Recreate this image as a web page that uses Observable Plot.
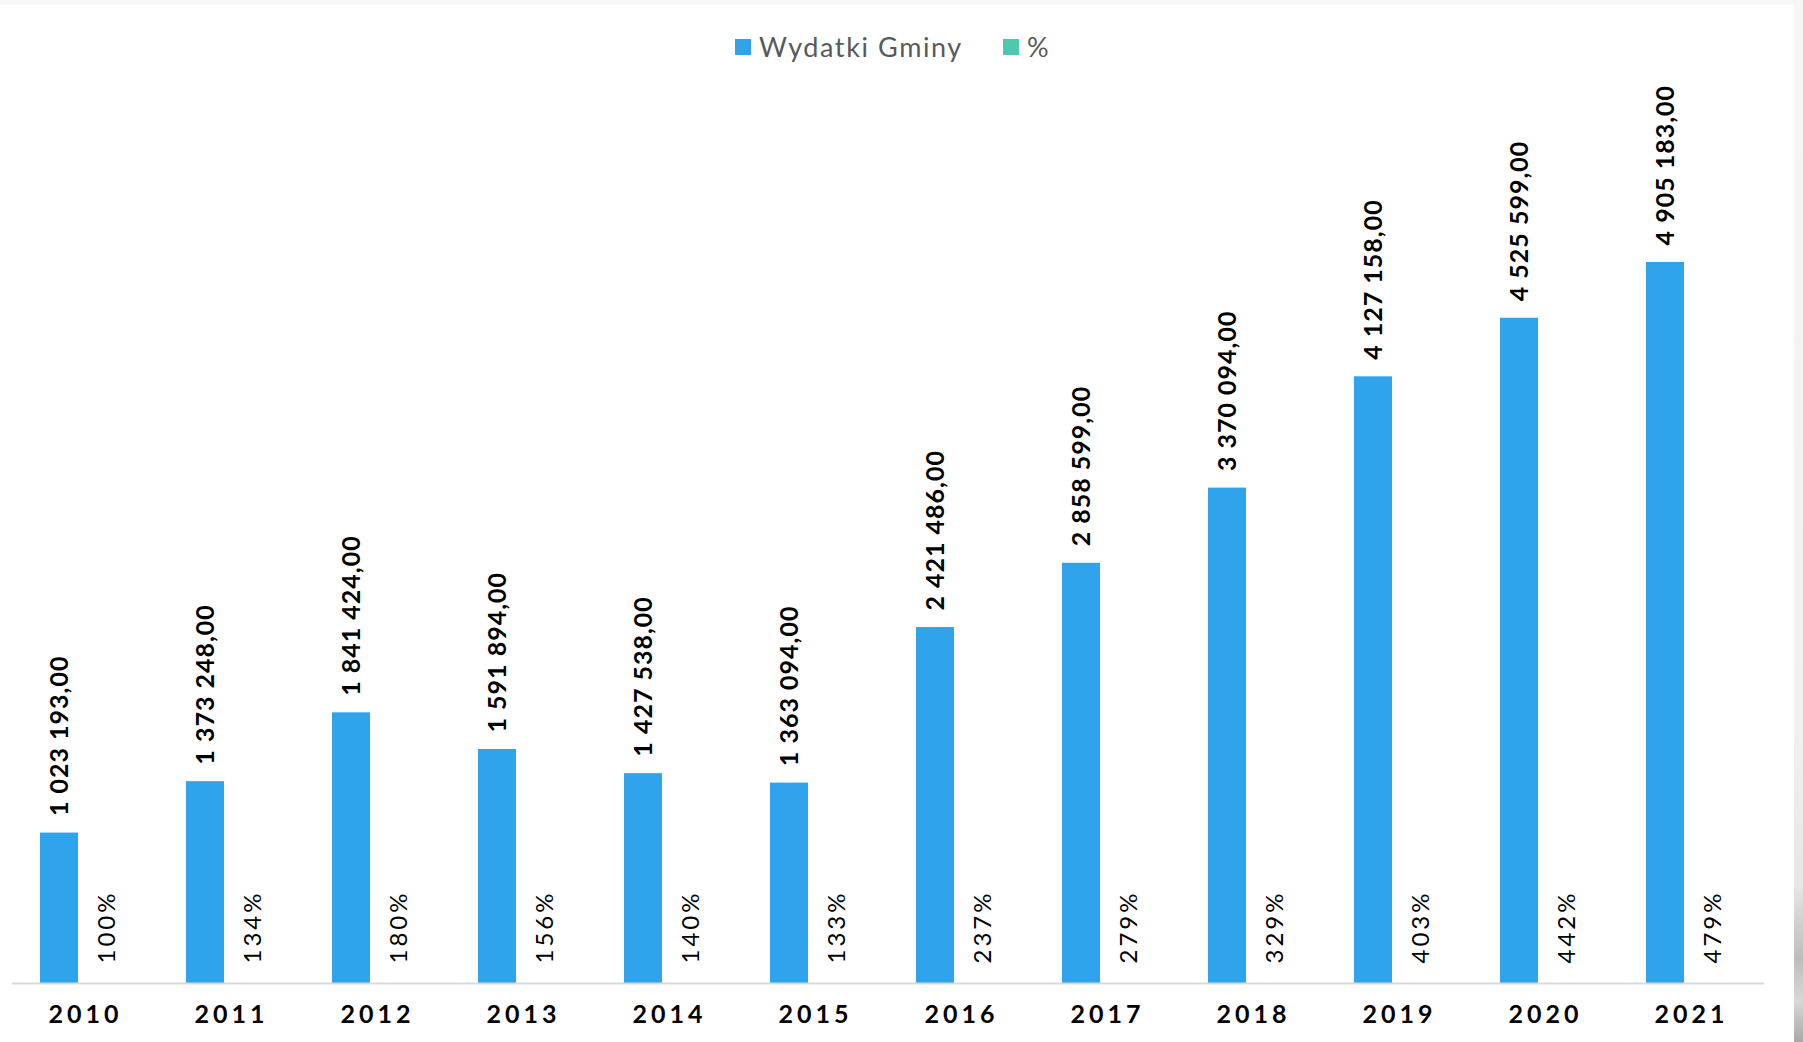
<!DOCTYPE html>
<html>
<head>
<meta charset="utf-8">
<script src="https://cdn.jsdelivr.net/npm/d3@7"></script>
<script src="https://cdn.jsdelivr.net/npm/@observablehq/plot@0.6"></script>
<style>
  html, body { margin: 0; padding: 0; background: #fff; }
  body { width: 1803px; height: 1042px; position: relative; overflow: hidden; font-family: Lato, "Noto Sans", sans-serif; }
  #legend { position: absolute; top: 30px; left: 735px; display: flex; gap: 40px; font-size: 27px; color: #595959; letter-spacing: 1.6px; }
  #legend .item { display: flex; align-items: center; gap: 8px; }
  #legend .sw { width: 16px; height: 16px; display: inline-block; }
  #chart { position: absolute; top: 70px; left: 0; }
  #topstrip { position: absolute; top: 0; left: 0; width: 1803px; height: 5px; background: #f8f8f8; }
  #strip { position: absolute; top: 0; left: 1794px; width: 9px; height: 1042px; background: linear-gradient(to bottom, #f6f6f6 0%, #f1f1f1 70%, #e6e6e6 85%, #bdbdbd 92%, #d8d8d8 96%, #a8a8a8 100%); }
  #chart g[aria-label="fx-axis tick label"] text { letter-spacing: 4px; }
  #chart .pct text { letter-spacing: 3px; }
  #chart .val text { letter-spacing: 1px; }
</style>
</head>
<body>
<div id="topstrip"></div>
<div id="legend"></div>
<div id="chart"></div>
<div id="strip"></div>
<script>
const years = ["2010","2011","2012","2013","2014","2015","2016","2017","2018","2019","2020","2021"];
const seriesNames = ["Wydatki Gminy", "%"];
const seriesColors = ["#2FA3EC", "#4DC9AE"];
const wydatki = [1023193, 1373248, 1841424, 1591894, 1427538, 1363094, 2421486, 2858599, 3370094, 4127158, 4525599, 4905183];
const procent = [100, 134, 180, 156, 140, 133, 237, 279, 329, 403, 442, 479];

const rows = years.flatMap((yr, i) => [
  {year: yr, series: seriesNames[0], value: wydatki[i]},
  {year: yr, series: seriesNames[1], value: procent[i] / 100, pct: procent[i]}
]);
const valueRows = rows.filter(d => d.series === seriesNames[0]);
const pctRows = rows.filter(d => d.series === seriesNames[1]);

const loc = d3.formatLocale({decimal: ",", thousands: " ", grouping: [3], currency: ["", ""]});
const fmt = loc.format(",.2f");

// legend
const legend = document.getElementById("legend");
seriesNames.forEach((s, i) => {
  const it = document.createElement("div");
  it.className = "item";
  it.innerHTML = `<span class="sw" style="background:${seriesColors[i]}"></span><span>${s}</span>`;
  legend.appendChild(it);
});

const chart = Plot.plot({
  width: 1803,
  height: 972,
  marginTop: 31,
  marginBottom: 59,
  marginLeft: 8,
  marginRight: 36,
  style: {fontFamily: "Lato, 'Noto Sans', sans-serif", background: "transparent", overflow: "visible"},
  fx: {domain: years, padding: 0, label: null},
  x: {domain: seriesNames, axis: null, paddingInner: 0, paddingOuter: 0.872, align: 0.4},
  y: {domain: [0, 6000000], axis: null},
  color: {domain: seriesNames, range: seriesColors},
  marks: [
    Plot.barY(rows, {fx: "year", x: "series", y: "value", fill: "series"}),
    Plot.ruleY([0], {stroke: "#d9d9d9", strokeWidth: 2}),
    Plot.text(valueRows, {
      fx: "year", x: "series", y: "value",
      text: d => fmt(d.value),
      rotate: -90, textAnchor: "start", lineAnchor: "middle",
      dy: -17, fontSize: 25, fontWeight: "bold", fill: "#000", className: "val"
    }),
    Plot.text(pctRows, {
      fx: "year", x: "series", y: 0,
      text: d => d.pct + "%",
      rotate: -90, textAnchor: "start", lineAnchor: "middle",
      dy: -20, dx: 10, fontSize: 24, fill: "#000", className: "pct"
    }),
    Plot.axisFx({anchor: "bottom", tickSize: 0, tickPadding: 22, fontSize: 25, fontWeight: "bold", fill: "#000", label: null})
  ]
});
document.getElementById("chart").appendChild(chart);
</script>
</body>
</html>
